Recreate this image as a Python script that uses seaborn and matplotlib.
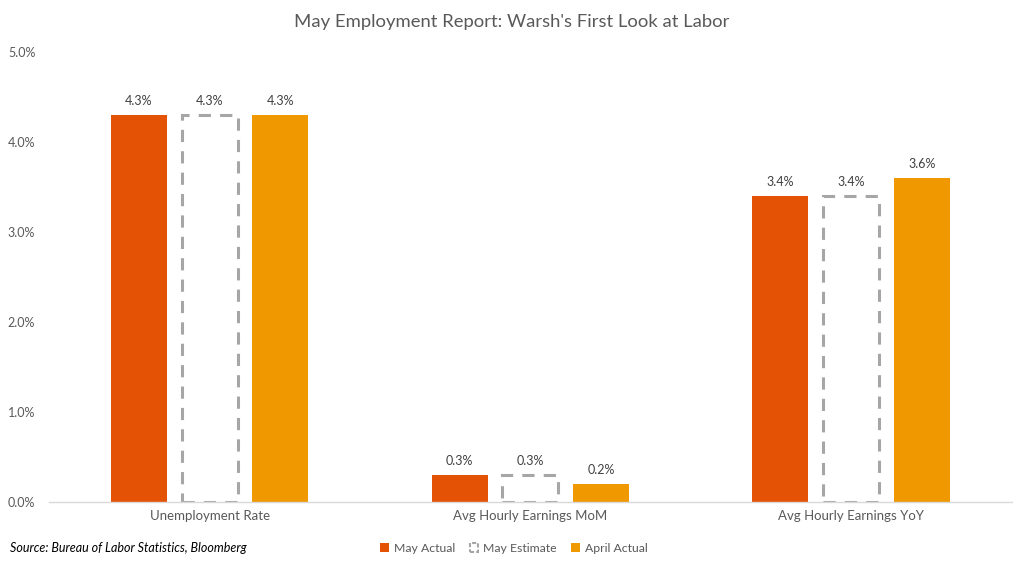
import pandas as pd
import seaborn as sns
import matplotlib.pyplot as plt
from matplotlib.patches import Patch

# data
categories = ["Unemployment Rate", "Avg Hourly Earnings MoM", "Avg Hourly Earnings YoY"]
series = ["May Actual", "May Estimate", "April Actual"]
may_actual = [4.3, 0.3, 3.4]
may_estimate = [4.3, 0.3, 3.4]
april_actual = [4.3, 0.2, 3.6]
y_ticks = [0, 1, 2, 3, 4, 5]

colors = {"May Actual": "#E35205", "May Estimate": "#FFFFFF", "April Actual": "#F09800"}
gray_txt = "#595959"

df = pd.DataFrame({
    "category": categories * 3,
    "series": [s for s in series for _ in categories],
    "value": may_actual + may_estimate + april_actual,
})

sns.set_theme(style="white")
plt.rcParams['font.family'] = ['Lato', 'DejaVu Sans']

fig = plt.figure(figsize=(10.24, 5.68), dpi=100)
ax = fig.add_axes([0.048, 0.116, 0.94, 0.792])

sns.barplot(data=df, x="category", y="value", hue="series", order=categories,
            hue_order=series, palette=colors, width=0.663, gap=0.21,
            legend=False, ax=ax, saturation=1, linewidth=0)

# dashed outline for the estimate bars
for i, cont in enumerate(ax.containers):
    if series[i] == "May Estimate":
        for p in cont:
            p.set_facecolor("none")
            p.set_edgecolor("#A6A6A6")
            p.set_linewidth(2.2)
            p.set_linestyle((0, (4, 3)))
    ax.bar_label(cont, labels=[f"{v:.1f}%" for v in cont.datavalues],
                 padding=6, fontsize=9, color="#404040")

ax.set_ylim(0, 5)
ax.set_yticks(y_ticks)
ax.set_yticklabels([f"{t:.1f}%" for t in y_ticks], fontsize=9, color=gray_txt)
ax.tick_params(axis="x", labelsize=9.5, colors=gray_txt, length=0, pad=6)
ax.tick_params(axis="y", length=0, pad=10)
ax.set_xlabel("")
ax.set_ylabel("")
for s in ["top", "right", "left"]:
    ax.spines[s].set_visible(False)
ax.spines["bottom"].set_color("#D9D9D9")
ax.spines["bottom"].set_linewidth(1)

fig.suptitle("May Employment Report: Warsh's First Look at Labor", y=0.975,
             fontsize=13.3, color=gray_txt)

fig.text(0.01, 0.035, "Source: Bureau of Labor Statistics, Bloomberg",
         fontsize=9, style="italic", color="black", va="center")

handles = [
    Patch(facecolor=colors["May Actual"], edgecolor="none"),
    Patch(facecolor="none", edgecolor="#A6A6A6", linestyle=(0, (2, 1)), linewidth=1.5),
    Patch(facecolor=colors["April Actual"], edgecolor="none"),
]
fig.legend(handles, series, loc="center", bbox_to_anchor=(0.502, 0.035), ncol=3,
           frameon=False, fontsize=8.8, handlelength=0.7, handleheight=0.7,
           handletextpad=0.4, columnspacing=1.2, labelcolor=gray_txt)

fig.savefig("out.png", dpi=100)
